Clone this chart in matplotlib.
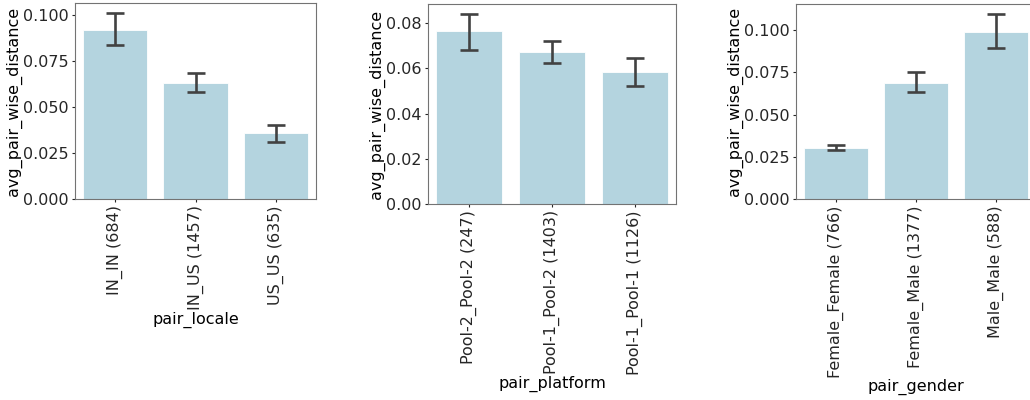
import numpy as np
import matplotlib
matplotlib.use("Agg")
import matplotlib.pyplot as plt

# data
locale_cats = ["IN_IN (684)", "IN_US (1457)", "US_US (635)"]
locale_vals = [0.0918, 0.0633, 0.0358]
locale_lo = [0.0838, 0.0582, 0.0312]
locale_hi = [0.1010, 0.0688, 0.0402]

platform_cats = ["Pool-2_Pool-2 (247)", "Pool-1_Pool-2 (1403)", "Pool-1_Pool-1 (1126)"]
platform_vals = [0.0765, 0.0671, 0.0583]
platform_lo = [0.0681, 0.0625, 0.0521]
platform_hi = [0.0842, 0.0719, 0.0646]

gender_cats = ["Female_Female (766)", "Female_Male (1377)", "Male_Male (588)"]
gender_vals = [0.0305, 0.0690, 0.0990]
gender_lo = [0.0290, 0.0632, 0.0895]
gender_hi = [0.0322, 0.0750, 0.1095]

bar_color = "#b4d4df"
err_color = "#424242"
fs = 11.5

fig = plt.figure(figsize=(10.3, 4.0), dpi=100)

panels = [
    (locale_cats, locale_vals, locale_lo, locale_hi, "pair_locale",
     [75/1030, 1-199/400, 241/1030, 196/400], 0.1066, [0, 0.025, 0.05, 0.075, 0.1], "%.3f"),
    (platform_cats, platform_vals, platform_lo, platform_hi, "pair_platform",
     [428/1030, 1-204/400, 248/1030, 200/400], 0.0884, [0, 0.02, 0.04, 0.06, 0.08], "%.2f"),
    (gender_cats, gender_vals, gender_lo, gender_hi, "pair_gender",
     [796/1030, 1-199/400, 240/1030, 195/400], 0.1156, [0, 0.025, 0.05, 0.075, 0.1], "%.3f"),
]

for cats, vals, lo, hi, xlab, rect, ymax, yt, fmt in panels:
    ax = fig.add_axes(rect)
    x = np.arange(len(cats))
    vals = np.array(vals)
    ax.bar(x, vals, width=0.8, color=bar_color, edgecolor="white", linewidth=0.6)
    yerr = [vals - np.array(lo), np.array(hi) - vals]
    ax.errorbar(x, vals, yerr=yerr, fmt="none", ecolor=err_color,
                elinewidth=1.9, capsize=6.5, capthick=1.9)
    ax.set_xlim(-0.5, len(cats) - 0.5)
    ax.set_ylim(0, ymax)
    ax.set_yticks(yt)
    ax.set_yticklabels([fmt % v for v in yt], fontsize=fs)
    ax.set_xticks(x)
    ax.set_xticklabels(cats, rotation=90, fontsize=fs)
    ax.set_xlabel(xlab, fontsize=fs, labelpad=1)
    ax.set_ylabel("avg_pair_wise_distance", fontsize=fs, labelpad=1)
    for s in ax.spines.values():
        s.set_edgecolor("0.45")
    ax.tick_params(colors="0.15", length=2.5, pad=2)

fig.savefig("out.png", dpi=100)
